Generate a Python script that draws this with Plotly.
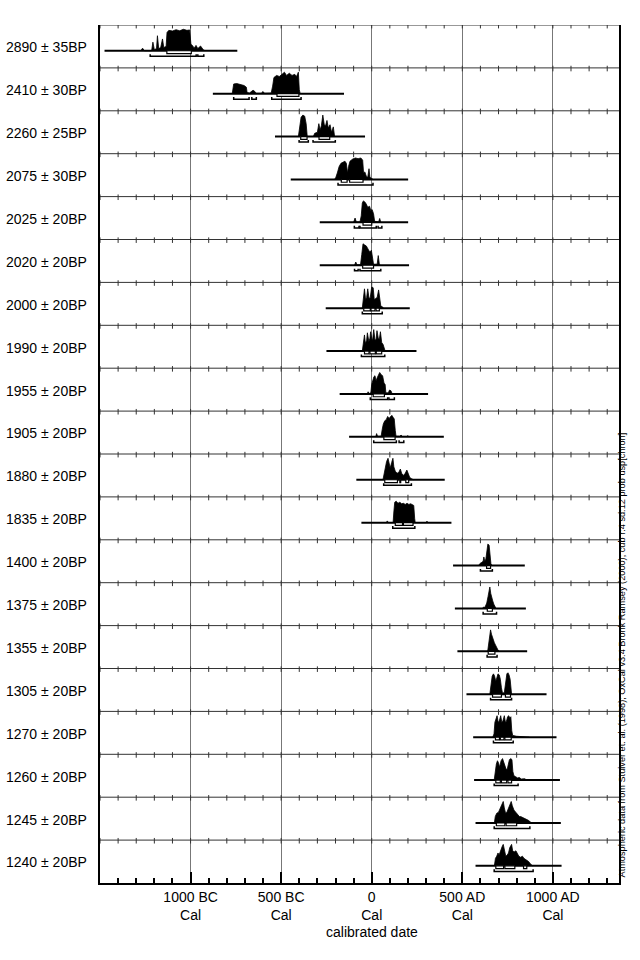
import plotly.graph_objects as go

# radiocarbon determinations, top to bottom
labels = ["2890 ± 35BP", "2410 ± 30BP", "2260 ± 25BP", "2075 ± 30BP", "2025 ± 20BP",
          "2020 ± 20BP", "2000 ± 20BP", "1990 ± 20BP", "1955 ± 20BP", "1905 ± 20BP",
          "1880 ± 20BP", "1835 ± 20BP", "1400 ± 20BP", "1375 ± 20BP", "1355 ± 20BP",
          "1305 ± 20BP", "1270 ± 20BP", "1260 ± 20BP", "1245 ± 20BP", "1240 ± 20BP"]

# extent of the calibration line (cal years, BC negative)
line_from = [-1475, -877, -534, -447, -287, -287, -254, -250, -177, -125,
             -85, -57, 449, 459, 473, 523, 560, 565, 573, 573]
line_to = [-742, -153, -37, 201, 201, 206, 210, 247, 311, 398,
           403, 440, 845, 851, 858, 965, 1020, 1039, 1044, 1048]

# probability distributions (relative to peak)
yr_2890 = [-1275, -1265, -1255, -1215, -1208, -1200, -1188, -1183, -1176, -1165, -1155, -1148, -1135,
           -1130, -1120, -1100, -1080, -1060, -1040, -1020, -1005, -998, -990, -980, -970, -960, -945, -930, -920]
p_2890 = [0, 0.12, 0, 0, 0.4, 0.05, 0.1, 0.7, 0.1, 0.15, 0.55, 0.15, 0.2,
          0.85, 0.95, 0.92, 0.98, 0.93, 1.0, 0.95, 0.97, 0.3, 0.25, 0.12, 0.25, 0.1, 0.22, 0.05, 0]

yr_2410 = [-770, -762, -745, -725, -705, -692, -688, -675, -665, -655, -645, -638, -610, -600, -592,
           -555, -547, -540, -525, -510, -495, -482, -470, -455, -440, -425, -415, -405, -400, -395]
p_2410 = [0, 0.45, 0.47, 0.42, 0.38, 0.3, 0.05, 0.03, 0.12, 0.16, 0.1, 0.02, 0.02, 0.1, 0.02,
          0.03, 0.35, 0.75, 0.85, 0.8, 0.9, 1.0, 0.85, 0.95, 0.85, 0.9, 0.8, 1.0, 0.2, 0]

yr_2260 = [-405, -398, -390, -380, -370, -362, -356, -322, -315, -300, -292, -285, -278, -270,
           -262, -255, -247, -240, -230, -222, -212, -205]
p_2260 = [0, 0.4, 0.9, 1.0, 0.95, 0.6, 0, 0, 0.15, 0.2, 0.6, 0.3, 0.5, 1.0,
          0.55, 0.5, 0.75, 0.4, 0.55, 0.2, 0.45, 0]

yr_2075 = [-205, -198, -190, -180, -170, -158, -148, -140, -134, -128, -120, -105, -90, -75, -60,
           -50, -45, -38, -30, -22, -15, -10, 0, 8]
p_2075 = [0, 0.1, 0.3, 0.6, 0.75, 0.8, 0.85, 0.75, 0.3, 0.6, 0.85, 0.95, 1.0, 0.97, 1.0,
          0.9, 0.3, 0.35, 0.15, 0.1, 0.5, 0.1, 0.05, 0]

yr_2025 = [-100, -92, -85, -65, -58, -52, -46, -38, -30, -22, -12, -5, 2, 10, 16, 38, 44, 50]
p_2025 = [0, 0.2, 0.02, 0.02, 0.3, 0.9, 1.0, 0.95, 0.85, 0.7, 0.75, 0.55, 0.6, 0.4, 0.05, 0.02, 0.18, 0]

yr_2020 = [-95, -88, -82, -62, -55, -48, -40, -30, -20, -10, -2, 5, 10, 30, 36, 42, 48]
p_2020 = [0, 0.15, 0.02, 0.02, 0.5, 1.0, 0.95, 0.9, 0.75, 0.6, 0.7, 0.4, 0.05, 0.05, 0.45, 0.05, 0]

yr_2000 = [-52, -48, -40, -34, -28, -22, -15, -8, 0, 8, 14, 22, 30, 38, 44, 50, 60, 66]
p_2000 = [0, 0.3, 0.9, 0.4, 0.5, 0.9, 0.45, 0.5, 1.0, 0.95, 0.4, 0.45, 0.5, 0.85, 0.4, 0.1, 0.05, 0]

yr_1990 = [-52, -47, -40, -35, -28, -24, -16, -10, -6, 2, 6, 11, 18, 24, 29, 36, 42, 48, 55, 63, 70, 74]
p_1990 = [0, 0.3, 0.75, 0.35, 0.5, 0.85, 0.45, 0.6, 0.9, 0.5, 0.6, 1.0, 0.5, 0.55, 0.95, 0.6, 0.55, 0.9,
          0.4, 0.3, 0.05, 0]

yr_1955 = [-25, -20, -15, -5, 0, 6, 12, 18, 24, 30, 38, 44, 52, 60, 68, 74, 78, 92, 98, 106, 112, 118]
p_1955 = [0, 0.1, 0.02, 0.05, 0.45, 0.7, 0.8, 0.85, 0.6, 0.75, 0.95, 1.0, 0.9, 0.85, 0.5, 0.45, 0.05,
          0.05, 0.18, 0.15, 0.02, 0]

yr_1905 = [22, 27, 32, 52, 58, 64, 72, 80, 88, 96, 104, 112, 118, 124, 130, 134, 155, 162, 170, 195, 200, 206]
p_1905 = [0, 0.15, 0.03, 0.03, 0.35, 0.6, 0.75, 0.8, 0.95, 0.85, 0.95, 1.0, 0.9, 0.85, 0.3, 0.03,
          0.03, 0.08, 0.02, 0.02, 0.06, 0]

yr_1880 = [62, 68, 75, 82, 90, 96, 102, 110, 117, 122, 130, 140, 150, 158, 165, 175, 185, 194, 200, 210, 220, 230]
p_1880 = [0, 0.3, 0.7, 0.85, 1.0, 0.75, 0.55, 0.8, 1.0, 0.6, 0.4, 0.3, 0.35, 0.5, 0.3, 0.2, 0.3, 0.45,
          0.3, 0.1, 0.05, 0]

yr_1835 = [80, 86, 92, 118, 122, 127, 135, 145, 155, 165, 175, 185, 195, 205, 215, 225, 232, 237, 240,
           300, 305, 310]
p_1835 = [0, 0.08, 0, 0, 0.5, 0.95, 1.0, 0.9, 0.95, 0.88, 0.9, 0.85, 0.9, 0.85, 0.88, 0.85, 0.8, 0.2, 0,
          0, 0.07, 0]

yr_1400 = [590, 598, 608, 615, 619, 624, 630, 635, 641, 648, 653, 658, 664]
p_1400 = [0, 0.1, 0.15, 0.2, 0.4, 0.2, 0.3, 0.8, 1.0, 0.95, 0.4, 0.08, 0]

yr_1375 = [612, 616, 625, 635, 642, 648, 652, 657, 662, 668, 674, 680, 686]
p_1375 = [0, 0.06, 0.05, 0.25, 0.55, 0.9, 1.0, 0.7, 0.5, 0.35, 0.2, 0.08, 0]

yr_1355 = [640, 645, 650, 656, 661, 666, 671, 677, 683, 690, 697, 705]
p_1355 = [0, 0.4, 0.85, 1.0, 0.8, 0.65, 0.5, 0.4, 0.3, 0.15, 0.06, 0]

yr_1305 = [652, 658, 665, 672, 678, 685, 690, 697, 704, 710, 716, 722, 732, 740, 746, 752, 758, 764, 768, 772]
p_1305 = [0, 0.5, 0.85, 0.95, 0.85, 0.6, 0.8, 0.95, 0.9, 0.7, 0.3, 0.05, 0.08, 0.6, 0.95, 1.0, 0.9, 0.7,
          0.1, 0]

yr_1270 = [668, 675, 680, 686, 692, 698, 704, 712, 718, 724, 732, 738, 744, 750, 756, 762, 768, 773, 778,
           800, 830, 860, 870]
p_1270 = [0, 0.15, 0.7, 0.85, 1.0, 0.7, 0.75, 1.0, 0.7, 0.75, 1.0, 0.7, 0.75, 0.95, 1.0, 0.9, 0.95, 0.3,
          0.08, 0.04, 0.03, 0.02, 0]

yr_1260 = [676, 682, 688, 694, 700, 706, 714, 722, 728, 734, 742, 748, 754, 760, 768, 774, 779, 785, 795,
           805, 815, 825, 845, 855]
p_1260 = [0, 0.4, 0.75, 0.9, 0.8, 0.6, 0.9, 1.0, 0.85, 0.6, 0.5, 0.5, 0.8, 0.95, 1.0, 0.95, 0.4, 0.2,
          0.15, 0.1, 0.12, 0.05, 0.06, 0]

yr_1245 = [677, 682, 690, 700, 710, 718, 726, 732, 739, 746, 753, 762, 770, 776, 785, 795, 805, 815, 822,
           835, 845, 855, 865, 875, 882]
p_1245 = [0, 0.3, 0.45, 0.5, 0.7, 0.9, 1.0, 0.7, 0.45, 0.5, 0.65, 0.85, 1.0, 0.8, 0.6, 0.5, 0.4, 0.3, 0.3,
          0.25, 0.2, 0.18, 0.12, 0.05, 0]

yr_1240 = [677, 683, 690, 697, 703, 712, 720, 726, 732, 740, 748, 755, 762, 772, 778, 786, 796, 804, 812,
           822, 832, 840, 850, 858, 866, 875, 888]
p_1240 = [0, 0.35, 0.45, 0.6, 0.5, 0.75, 0.9, 1.0, 0.7, 0.45, 0.5, 0.6, 0.85, 1.0, 0.7, 0.65, 0.7, 0.55,
          0.45, 0.4, 0.45, 0.35, 0.3, 0.25, 0.2, 0.1, 0]

# 68.2% ranges (boxes) and 95.4% ranges (brackets)
r68 = [[(-1131, -996)],
       [(-523, -402)],
       [(-392, -357), (-291, -232)],
       [(-168, -136), (-122, -48)],
       [(-48, 0)],
       [(-50, 10)],
       [(-44, -8), (-4, 18), (24, 42)],
       [(-40, -15), (-10, 20), (25, 55)],
       [(8, 70)],
       [(67, 129)],
       [(72, 142), (155, 160), (188, 204)],
       [(130, 170), (175, 228)],
       [(634, 656)],
       [(638, 666)],
       [(643, 680)],
       [(667, 716), (738, 766)],
       [(683, 705), (710, 730), (735, 770)],
       [(685, 710), (716, 745), (752, 772)],
       [(688, 735), (742, 800)],
       [(685, 728), (735, 790), (838, 856)]]
r95 = [[(-1223, -969), (-960, -927)],
       [(-762, -677), (-662, -637), (-552, -390)],
       [(-401, -350), (-324, -201)],
       [(-186, 7)],
       [(-96, -70), (-65, 25), (35, 56)],
       [(-95, -75), (-65, 50)],
       [(-52, 58)],
       [(-57, 72)],
       [(-8, 88), (95, 125)],
       [(11, 136), (151, 177)],
       [(66, 219)],
       [(116, 238)],
       [(600, 666)],
       [(615, 689)],
       [(637, 692)],
       [(656, 772)],
       [(672, 781)],
       [(676, 808)],
       [(676, 873)],
       [(676, 891)]]

dist_years = [yr_2890, yr_2410, yr_2260, yr_2075, yr_2025, yr_2020, yr_2000, yr_1990, yr_1955, yr_1905,
              yr_1880, yr_1835, yr_1400, yr_1375, yr_1355, yr_1305, yr_1270, yr_1260, yr_1245, yr_1240]
dist_probs = [p_2890, p_2410, p_2260, p_2075, p_2025, p_2020, p_2000, p_1990, p_1955, p_1905,
              p_1880, p_1835, p_1400, p_1375, p_1355, p_1305, p_1270, p_1260, p_1245, p_1240]

X0, X1 = -1500, 1365
N = len(labels)
PEAK = 0.5        # height of tallest peak, in row units
BASE = 0.6        # baseline offset below row top
FONT = "Liberation Sans, Arial, sans-serif"

fig = go.Figure()

# row separators with crossing ticks
sep_x, sep_y, tk_x, tk_y = [], [], [], []
for r in range(N):
    top = N - r
    sep_x += [X0, X1, None]
    sep_y += [top, top, None]
    for t in range(-1500, X1 + 1, 100):
        tk_x += [t, t, None]
        tk_y += [top + 0.05, top - 0.08, None]
fig.add_trace(go.Scatter(x=sep_x, y=sep_y, mode="lines", line=dict(color="#333", width=1),
                         hoverinfo="skip", showlegend=False))
fig.add_trace(go.Scatter(x=tk_x, y=tk_y, mode="lines", line=dict(color="#333", width=1),
                         hoverinfo="skip", showlegend=False))

for r in range(N):
    base = N - r - BASE
    # distribution
    fig.add_trace(go.Scatter(x=dist_years[r], y=[base + p * PEAK for p in dist_probs[r]],
                             mode="lines", fill="toself", fillcolor="black",
                             line=dict(color="black", width=0.8), hoverinfo="skip", showlegend=False))
    # calibration range line
    fig.add_trace(go.Scatter(x=[line_from[r], line_to[r]], y=[base, base], mode="lines",
                             line=dict(color="black", width=2), hoverinfo="skip", showlegend=False))
    # 68% boxes
    bx, by = [], []
    for lo, hi in r68[r]:
        bx += [lo, hi, hi, lo, lo, None]
        by += [base, base, base - 0.065, base - 0.065, base, None]
    fig.add_trace(go.Scatter(x=bx, y=by, mode="lines", fill="toself", fillcolor="white",
                             line=dict(color="black", width=1.2), hoverinfo="skip", showlegend=False))
    # 95% brackets
    kx, ky = [], []
    for lo, hi in r95[r]:
        kx += [lo, lo, hi, hi, None]
        ky += [base - 0.08, base - 0.13, base - 0.13, base - 0.08, None]
    fig.add_trace(go.Scatter(x=kx, y=ky, mode="lines", line=dict(color="black", width=1.5),
                             hoverinfo="skip", showlegend=False))
    fig.add_annotation(x=0, xref="paper", xanchor="right", xshift=-11,
                       y=N - r - 0.52, yref="y", text=labels[r], showarrow=False,
                       font=dict(size=14, color="black", family=FONT))

fig.add_annotation(x=1, xref="paper", xshift=9, y=0, yref="paper", yanchor="bottom", yshift=3,
                   textangle=-90, showarrow=False,
                   text="Atmospheric data from Stuiver et. al. (1998); OxCal v3.4 Bronk Ramsey (2000); "
                        "cub r:4 sd:12 prob usp[chron]",
                   font=dict(size=9.2, color="black", family=FONT))

# axis title, placed just under the two-line tick labels
fig.add_annotation(x=0, xref="x", y=0, yref="paper", yanchor="top", yshift=-39,
                   text="calibrated date", showarrow=False,
                   font=dict(size=14, color="black", family=FONT))

fig.update_layout(
    width=640, height=960,
    margin=dict(l=100, r=21, t=25, b=77),
    paper_bgcolor="white", plot_bgcolor="white",
    font=dict(family=FONT, color="black", size=14),
    xaxis=dict(range=[X0, X1], tickvals=[-1000, -500, 0, 500, 1000],
               ticktext=["1000 BC<br>Cal", "500 BC<br>Cal", "0<br>Cal", "500 AD<br>Cal", "1000 AD<br>Cal"],
               ticks="inside", ticklen=11, tickwidth=1.5, tickcolor="black",
               minor=dict(dtick=100, tick0=0, ticks="inside", ticklen=5, tickwidth=1.5, tickcolor="black"),
               showline=True, linecolor="black", linewidth=2,
               showgrid=True, gridcolor="#777", gridwidth=1, zeroline=False),
    yaxis=dict(range=[0, N], showticklabels=False, ticks="", showgrid=False, zeroline=False,
               showline=True, linecolor="black", linewidth=1.5, mirror=True),
)

# drop the page's default body margin so the 640x960 figure fills the window
fig.write_html("out.html", config={"displayModeBar": False},
               post_script="document.body.style.margin='0';")
